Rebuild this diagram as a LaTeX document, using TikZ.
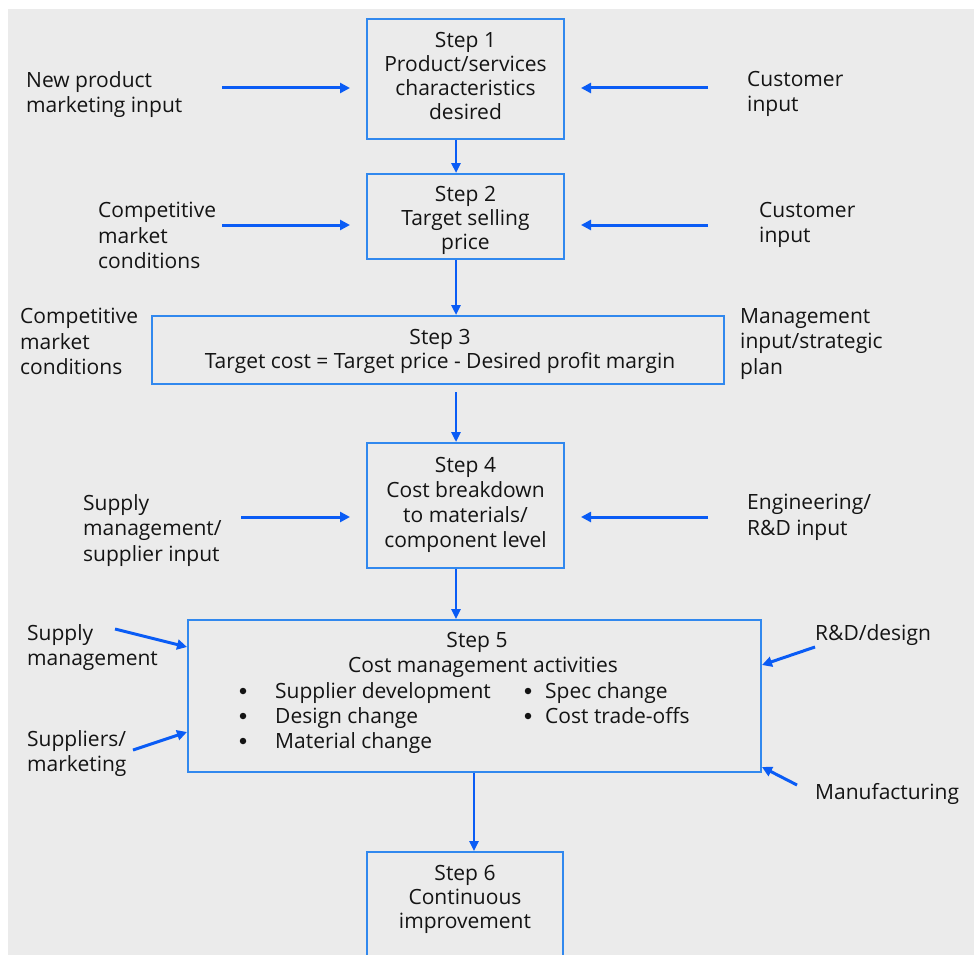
\documentclass[tikz,border=0pt]{standalone}
\usepackage{fontspec}
\setmainfont{Open Sans}
\usetikzlibrary{arrows.meta}
\definecolor{bg}{HTML}{EBEBEB}
\definecolor{boxblue}{HTML}{3188EE}
\definecolor{arrblue}{HTML}{0A5CF5}
\begin{document}
\begin{tikzpicture}[x=1pt,y=-1pt,
  every node/.style={font=\fontsize{21}{24}\selectfont, text=black!92},
  stepbox/.style={draw=boxblue, line width=2pt, inner sep=0pt},
  lbl/.style={align=left, anchor=north west, inner sep=0pt, font=\fontsize{21}{25.5}\selectfont},
  txt/.style={inner sep=0pt, anchor=north, align=center},
  bul/.style={circle, fill=black!92, inner sep=0pt, minimum size=6.5pt},
  arr/.style={draw=arrblue, line width=3pt, -{Triangle[length=10pt,width=10pt]}},
  varr/.style={draw=arrblue, line width=2.4pt, -{Triangle[length=10pt,width=9pt]}},
  ]
\useasboundingbox (0,0) rectangle (974,955);
\clip (0,0) rectangle (974,955);
\fill[bg] (8,9) rectangle (974,960);

% boxes
\node[stepbox, minimum width=197pt, minimum height=120pt] (s1) at (465.5,79) {};
\node[stepbox, minimum width=197pt, minimum height=85pt] (s2) at (465.5,216.5) {};
\node[stepbox, minimum width=572pt, minimum height=68pt] (s3) at (438,350) {};
\node[stepbox, minimum width=197pt, minimum height=125pt] (s4) at (465.5,505.5) {};
\node[stepbox, minimum width=573pt, minimum height=152pt] (s5) at (474.5,696) {};
\node[stepbox, minimum width=196pt, minimum height=110pt] (s6) at (465,907) {};

% box texts
\node[txt] (t1) at (465.5,32) {Step 1\\Product/services\\characteristics\\desired};
\node[txt] (t2) at (465.5,186) {Step 2\\Target selling\\price};
\node[txt] (t3) at (440,329) {Step 3\\Target cost = Target price - Desired profit margin};
\node[txt, font=\fontsize{21}{25}\selectfont] (t4) at (465.5,457) {Step 4\\Cost breakdown\\to materials/\\component level};
\node[txt] (t5a) at (477,632) {Step 5};
\node[txt] (t5b) at (483,657) {Cost management activities};
\node[lbl, font=\fontsize{21}{25}\selectfont] (bl) at (275,682) {Supplier development\\Design change\\Material change};
\node[lbl, font=\fontsize{21}{25}\selectfont] (br) at (545,682) {Spec change\\Cost trade-offs};
\node[bul] (d1) at (243,691) {};
\node[bul] (d2) at (243,716) {};
\node[bul] (d3) at (243,741) {};
\node[bul] (d4) at (528,691) {};
\node[bul] (d5) at (528,716) {};
\node[txt] (t6) at (465,865) {Step 6\\Continuous\\improvement};

% side labels
\node[lbl] (l1) at (26,71) {New product\\marketing input};
\node[lbl] (r1) at (747,71) {Customer\\input};
\node[lbl] (l2) at (98,202) {Competitive\\market\\conditions};
\node[lbl] (r2) at (759,202) {Customer\\input};
\node[lbl] (l3) at (20,308) {Competitive\\market\\conditions};
\node[lbl] (r3) at (740,308) {Management\\input/strategic\\plan};
\node[lbl] (l4) at (83,494) {Supply\\management/\\supplier input};
\node[lbl] (r4) at (747,494) {Engineering/\\R\&D input};
\node[lbl] (l5a) at (27,624) {Supply\\management};
\node[lbl] (l5b) at (27,730) {Suppliers/\\marketing};
\node[lbl] (r5a) at (815,624) {R\&D/design};
\node[lbl] (r5b) at (815,783) {Manufacturing};

% arrow start coordinates
\coordinate (a1l) at (222,88);
\coordinate (a1r) at (708,88);
\coordinate (a2l) at (222,225);
\coordinate (a2r) at (708,225);
\coordinate (a4l) at (241,517);
\coordinate (a4r) at (708,517);
\coordinate (a5a) at (115,629);
\coordinate (a5b) at (133,750);
\coordinate (a5c) at (815,647);
\coordinate (a5d) at (797,785);
\coordinate (a3s) at (456,392);

% horizontal inputs
\draw[arr] (a1l) -- ([xshift=-16pt]a1l -| s1.west);
\draw[arr] (a1r) -- ([xshift=16pt]a1r -| s1.east);
\draw[arr] (a2l) -- ([xshift=-16pt]a2l -| s2.west);
\draw[arr] (a2r) -- ([xshift=16pt]a2r -| s2.east);
\draw[arr] (a4l) -- ([xshift=-16pt]a4l -| s4.west);
\draw[arr] (a4r) -- ([xshift=16pt]a4r -| s4.east);
% step 5 inputs
\draw[arr] (a5a) -- (s5.west |- 0,647);
\draw[arr] (a5b) -- (s5.west |- 0,732);
\draw[arr] (a5c) -- (s5.east |- 0,665);
\draw[arr] (a5d) -- (s5.east |- 0,767);
% vertical flow
\draw[varr] (s1.south -| 456,0) -- (s2.north -| 456,0);
\draw[varr] (s2.south -| 456,0) -- (s3.north -| 456,0);
\draw[varr] (a3s) -- (s4.north -| 456,0);
\draw[varr] (s4.south -| 456,0) -- (s5.north -| 456,0);
\draw[varr] (s5.south -| 474,0) -- (s6.north -| 474,0);
\end{tikzpicture}
\end{document}
